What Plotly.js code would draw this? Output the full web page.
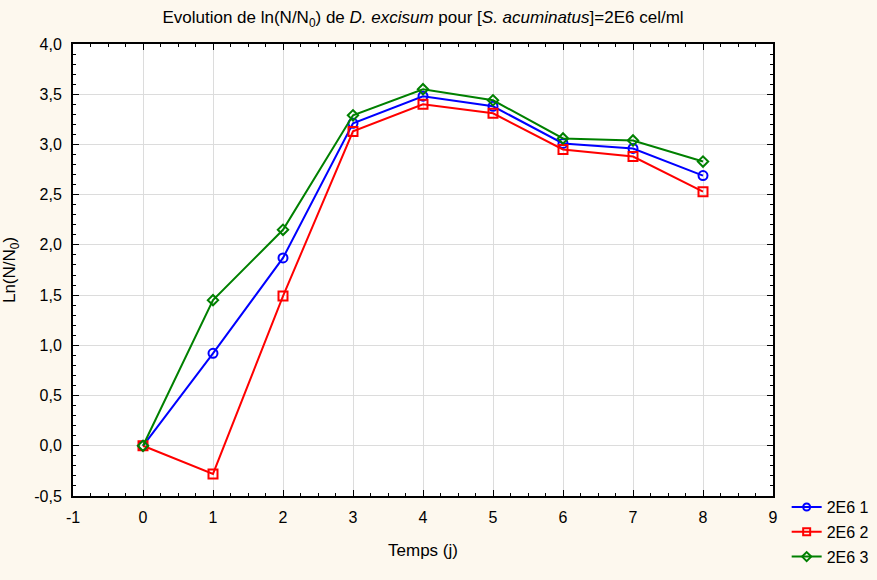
<!DOCTYPE html>
<html><head><meta charset="utf-8">
<script src="https://cdn.plot.ly/plotly-3.0.1.min.js"></script>
<style>body{margin:0;background:#fdf8ee}</style>
</head><body>
<div id="chart" style="width:877px;height:580px"></div>
<script>
const days = [0, 1, 2, 3, 4, 5, 6, 7, 8];
const serie1 = [0, 0.92, 1.87, 3.21, 3.48, 3.38, 3.01, 2.96, 2.69];
const serie2 = [0, -0.28, 1.49, 3.13, 3.40, 3.31, 2.95, 2.88, 2.53];
const serie3 = [0, 1.45, 2.15, 3.29, 3.55, 3.44, 3.06, 3.04, 2.83];
const names = ['2E6 1', '2E6 2', '2E6 3'];
const xTickVals = [-1, 0, 1, 2, 3, 4, 5, 6, 7, 8, 9];
const xTickText = ['-1', '0', '1', '2', '3', '4', '5', '6', '7', '8', '9'];
const yTickVals = [-0.5, 0, 0.5, 1, 1.5, 2, 2.5, 3, 3.5, 4];
const yTickText = ['-0,5', '0,0', '0,5', '1,0', '1,5', '2,0', '2,5', '3,0', '3,5', '4,0'];

const colors = ['#0000ff', '#ff0000', '#008000'];
const symbols = ['circle-open', 'square-open', 'diamond-open'];
const series = [serie1, serie2, serie3];
const sizes = [9, 9, 8];

const data = [];
series.forEach((y, i) => {
  data.push({
    x: days, y: y, name: names[i], type: 'scatter', mode: 'lines+markers', showlegend: false,
    line: {color: colors[i], width: 2},
    marker: {symbol: symbols[i], size: sizes[i], color: colors[i], line: {color: colors[i], width: 2}}
  });
});
series.forEach((y, i) => {
  data.push({
    x: [null], y: [null], name: names[i], type: 'scatter', mode: 'lines+markers',
    legendgroup: 'g' + i, showlegend: true,
    line: {color: colors[i], width: 2},
    marker: {symbol: symbols[i], size: 7, color: colors[i], line: {color: colors[i], width: 2}}
  });
});
const axisCommon = {
  showline: true, linecolor: '#000', linewidth: 2, mirror: 'ticks',
  ticks: 'inside', ticklen: 6, tickcolor: '#000', tickwidth: 1,
  showgrid: true, gridcolor: '#dcdcdc', gridwidth: 1, zeroline: false,
  ticklabelstandoff: 6,
  tickfont: {family: 'Liberation Sans, Arial, sans-serif', size: 16, color: '#000'}
};
const layout = {
  width: 877, height: 580,
  paper_bgcolor: '#fdf8ee', plot_bgcolor: '#ffffff',
  separators: ', ',
  margin: {l: 73, r: 104, t: 44, b: 84, autoexpand: false},
  font: {family: 'Liberation Sans, Arial, sans-serif', size: 15, color: '#000'},
  title: {text: 'Evolution de ln(N/N<sub>0</sub>) de <i>D. excisum</i> pour [<i>S. acuminatus</i>]=2E6 cel/ml',
          x: 0.5, xref: 'paper', y: 0.97, yanchor: 'middle', font: {size: 17}},
  xaxis: Object.assign({}, axisCommon, {
    range: [-1, 9], tickmode: 'array', tickvals: xTickVals, ticktext: xTickText,
    minor: {dtick: 0.25, tick0: 0, ticklen: 3, tickcolor: '#000', ticks: 'inside', showgrid: false},
    title: {text: 'Temps (j)', standoff: 19, font: {size: 17}}
  }),
  yaxis: Object.assign({}, axisCommon, {
    range: [-0.5, 4.0], tickmode: 'array', tickvals: yTickVals, ticktext: yTickText,
    minor: {dtick: 0.1, tick0: 0, ticklen: 3, tickcolor: '#000', ticks: 'inside', showgrid: false},
    title: {text: 'Ln(N/N<sub>0</sub>)', standoff: 14, font: {size: 17}}
  }),
  legend: {xref: 'container', yref: 'container', x: 0.897, xanchor: 'left', y: 0.155, yanchor: 'top',
           bgcolor: 'rgba(0,0,0,0)', font: {size: 16}, itemwidth: 30, tracegroupgap: 1, traceorder: 'grouped'}
};
Plotly.newPlot('chart', data, layout, {displayModeBar: false});
</script>
</body></html>
